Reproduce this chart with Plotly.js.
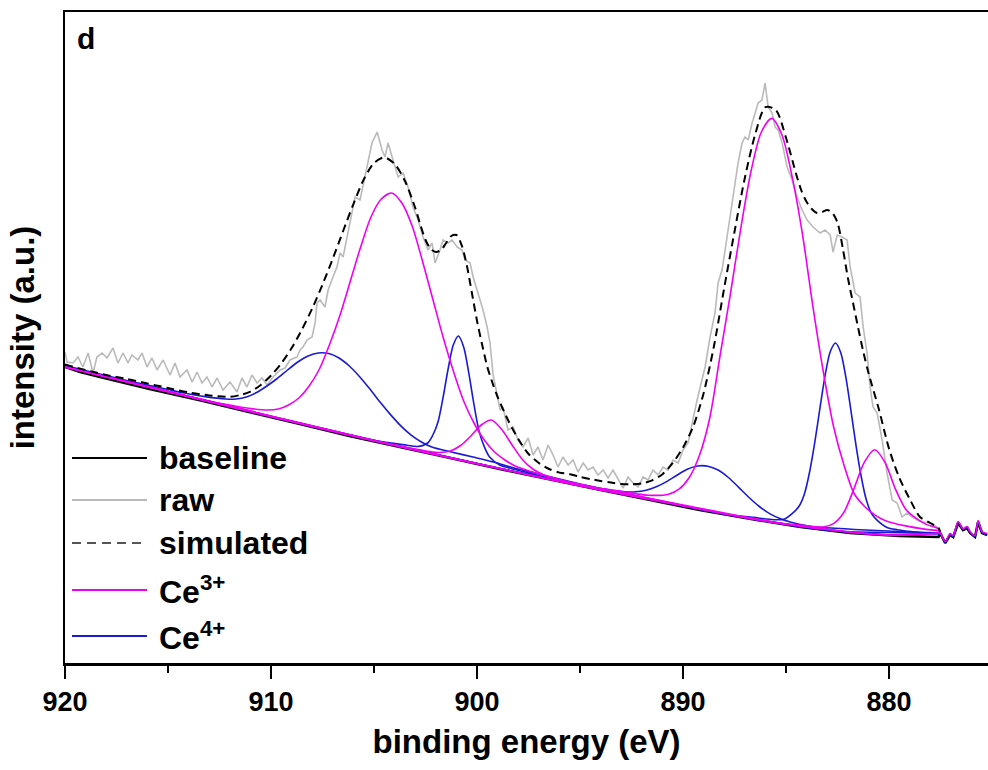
<!DOCTYPE html>
<html>
<head>
<meta charset="utf-8">
<script src="https://cdn.plot.ly/plotly-3.0.1.min.js"></script>
<style>html,body{margin:0;padding:0;background:#fff;}#chart{width:988px;height:770px;}</style>
</head>
<body>
<div id="chart"></div>
<script>
// ---- data (binding energy in eV, intensity in a.u.) ----
const tickVals = [920, 910, 900, 890, 880];
const tickText = ['920', '910', '900', '890', '880'];

const baselineX = [920, 919.27, 918.3, 915.9, 913.4, 911.0, 908.6, 906.2, 903.7, 901.3, 898.9, 896.5, 894.0, 891.6, 889.2, 886.7, 884.3, 881.9, 879.5, 877.6, 877.52, 877.28, 877.04, 876.89, 876.65, 876.41, 876.21, 876.07, 875.83, 875.68, 875.49, 875.24];
const baselineY = [296, 291, 286, 274, 262.5, 251, 239, 227, 216, 205, 194, 183.5, 173, 163, 153, 144, 136, 130, 127, 126, 130, 120, 128, 126, 140, 133, 135, 130, 126, 141, 130, 128];

const rawX = [920.00, 919.90, 919.61, 919.37, 919.13, 918.88, 918.64, 918.45, 918.20, 917.96,
  917.67, 917.43, 917.18, 916.94, 916.75, 916.46, 916.26, 916.02, 915.78, 915.53,
  915.24, 914.90, 914.66, 914.42, 914.08, 913.83, 913.59, 913.35, 913.11, 912.86,
  912.62, 912.33, 911.99, 911.65, 911.41, 911.17, 910.92, 910.68, 910.44, 910.19,
  909.90, 909.56, 909.32, 909.08, 908.74, 908.59, 908.45, 908.25, 908.01, 907.86,
  907.77, 907.62, 907.38, 907.23, 906.99, 906.80, 906.65, 906.50, 906.31, 906.07,
  905.92, 905.68, 905.44, 905.29, 905.10, 904.85, 904.61, 904.47, 904.32, 904.08,
  903.83, 903.59, 903.35, 903.11, 902.86, 902.62, 902.38, 902.18, 902.04, 901.80,
  901.65, 901.41, 901.21, 900.97, 900.73, 900.58, 900.34, 900.19, 899.95, 899.71,
  899.51, 899.37, 899.22, 899.03, 898.88, 898.74, 898.50, 898.25, 898.01, 897.77,
  897.52, 897.28, 897.04, 896.80, 896.55, 896.31, 896.07, 895.83, 895.58, 895.34,
  895.10, 894.85, 894.61, 894.37, 894.13, 893.88, 893.64, 893.40, 893.15, 892.91,
  892.67, 892.43, 892.18, 891.94, 891.70, 891.46, 891.21, 890.97, 890.73, 890.49,
  890.24, 890.00, 889.76, 889.51, 889.32, 889.17, 888.93, 888.69, 888.45, 888.30,
  888.11, 887.96, 887.82, 887.62, 887.48, 887.33, 887.14, 886.99, 886.84, 886.65,
  886.50, 886.36, 886.17, 886.02, 885.87, 885.68, 885.53, 885.39, 885.19, 884.95,
  884.71, 884.47, 884.22, 883.98, 883.69, 883.35, 883.11, 882.86, 882.72, 882.52,
  882.28, 882.04, 881.89, 881.65, 881.41, 881.26, 881.07, 880.92, 880.78, 880.58,
  880.34, 880.10, 879.85, 879.61, 879.37, 879.13, 878.88, 878.64, 878.35, 878.01,
  877.67, 877.52, 877.28, 877.04, 876.89, 876.65, 876.41, 876.21, 876.07, 875.83,
  875.68, 875.49, 875.24];
const rawY = [311, 301, 300, 306, 296, 310, 290, 306, 310, 305,
  315, 300, 310, 300, 308, 303, 310, 296, 305, 293,
  303, 288, 300, 286, 293, 281, 291, 280, 286, 276,
  285, 273, 281, 271, 285, 276, 288, 280, 285, 278,
  286, 293, 295, 303, 306, 313, 316, 323, 326, 340,
  360, 363, 356, 373, 386, 396, 410, 406, 426, 453,
  466, 463, 486, 503, 520, 531, 513, 506, 520, 503,
  486, 490, 476, 456, 443, 426, 413, 420, 400, 413,
  423, 420, 423, 416, 413, 403, 400, 386, 370, 353,
  336, 320, 288, 268, 253, 256, 233, 236, 223, 216,
  225, 208, 216, 203, 218, 208, 196, 206, 198, 203,
  191, 200, 193, 196, 188, 193, 185, 193, 183, 175,
  186, 180, 176, 186, 183, 193, 188, 196, 193, 203,
  200, 213, 220, 246, 263, 276, 296, 326, 350, 380,
  393, 413, 433, 460, 483, 500, 520, 526, 523, 540,
  550, 560, 563, 580, 556, 550, 536, 533, 520, 496,
  483, 466, 453, 443, 436, 430, 433, 428, 411, 428,
  426, 423, 396, 370, 366, 336, 310, 276, 256, 250,
  223, 190, 163, 160, 146, 150, 146, 143, 141, 140,
  136, 130, 120, 128, 126, 140, 133, 135, 130, 126,
  141, 130, 128];

const simX = [920, 919, 918, 917, 916, 915, 914, 913, 912, 911.5, 911, 910.5, 910, 909.5, 909, 908.5, 908, 907.5, 907, 906.5, 906, 905.5, 905, 904.5, 904, 903.5, 903, 902.75, 902.5, 902.25, 902, 901.75, 901.5, 901.25, 901, 900.75, 900.5, 900.25, 900, 899.75, 899.5, 899.25, 899, 898.5, 898, 897.5, 897, 896.5, 896, 895.5, 895, 894.5, 894, 893.5, 893, 892.5, 892, 891.5, 891, 890.5, 890, 889.5, 889, 888.5, 888, 887.5, 887, 886.5, 886, 885.5, 885, 884.5, 884.25, 884, 883.75, 883.5, 883.25, 883, 882.75, 882.5, 882.25, 882, 881.75, 881.5, 881.25, 881, 880.5, 880, 879.5, 879, 878.5, 878, 877.6, 877.52];
const simY = [298.5, 293, 288, 284, 279.5, 275, 270.6, 267.6, 266.2, 268, 271.4, 278, 287.5, 299.7, 315, 333.5, 354.5, 378.5, 404.5, 432, 459, 483.5, 500, 505.6, 499, 482, 455, 438, 423, 414, 411, 413, 420, 427, 428, 418, 398, 370, 342, 318, 296, 280, 266, 243, 224, 209, 200, 194, 190.4, 188.85, 186.2, 183.9, 182.1, 180.4, 178.9, 178.7, 179.6, 182.7, 188.8, 200.1, 215.6, 236.9, 270.1, 317, 375.5, 431.75, 485.3, 528.5, 555.9, 553, 525, 488, 472, 461, 454, 450, 451, 453, 450, 440, 415, 385, 360, 335, 311, 290, 254, 214, 185, 164, 146, 140, 135, 131];

// Ce3+ components
const ce3aX = [920, 916, 913, 911, 910.15, 909.65, 909.15, 908.65, 908.15, 907.65, 907.15, 906.65, 906.15, 905.65, 905.15, 904.65, 904.15, 903.65, 903.15, 902.65, 902.15, 901.65, 901.15, 900.65, 900.15, 899.65, 899.15, 898.65, 898.15, 897.15, 896, 894, 890, 885, 880, 877.52];
const ce3aY = [296, 276, 262, 254.5, 253, 254, 258, 265, 277, 294, 319, 348, 382, 416, 446, 464, 470, 460, 437, 402, 364, 326, 292, 262, 240, 223, 211, 203, 197, 190, 183.5, 174.5, 158, 139, 128, 130];
const ce3bX = [920, 905, 903, 902.3, 901.8, 901.3, 900.8, 900.3, 899.8, 899.3, 898.8, 898.3, 897.8, 897.3, 896.8, 896.3, 895.3, 893.3, 890, 885, 880, 877.52];
const ce3bY = [296, 222.5, 214, 211.4, 210.5, 212, 217.5, 227, 238, 243, 233.5, 218, 203.5, 194, 188.5, 184.8, 179.4, 170.7, 157.3, 138.7, 127.7, 130];
const ce3cX = [920, 905, 898, 895, 893.7, 891.7, 890.7, 890.2, 889.7, 889.2, 888.7, 888.2, 887.7, 887.2, 886.7, 886.2, 885.7, 885.2, 884.7, 884.2, 883.7, 883.2, 882.7, 882.2, 881.7, 881.2, 880.7, 880.2, 879.2, 878.2, 877.6, 877.52];
const ce3cY = [296, 222.5, 190.5, 177.5, 173.8, 167.8, 168.8, 173.8, 185.5, 208, 245.5, 308, 369.5, 434.7, 492, 531, 544.6, 528, 485.6, 428, 356.6, 292, 236.75, 198.5, 169.5, 156.8, 148.2, 142.6, 137.1, 133.6, 132.1, 130];
const ce3dX = [920, 905, 895, 890, 886, 884.2, 883.2, 882.7, 882.2, 881.7, 881.2, 880.7, 880.2, 879.7, 879.2, 878.7, 878.2, 877.6, 877.52, 877.28, 877.04, 876.89, 876.65, 876.41, 876.21, 876.07, 875.83, 875.68, 875.49, 875.24];
const ce3dY = [296, 222, 177, 157.2, 141.8, 137.6, 136, 139.3, 150.5, 174.5, 200.8, 213.2, 200.6, 174.35, 154.1, 144.85, 138.6, 134.1, 131, 121.5, 129.5, 127.5, 141.5, 134.5, 136.5, 131.5, 127.5, 142.5, 131.5, 129.5];

// Ce4+ components
const ce4aX = [920, 917, 915, 914.2, 913.2, 912.2, 911.7, 911.2, 910.7, 910.2, 909.7, 909.2, 908.7, 908.2, 907.7, 907.2, 906.7, 906.2, 905.7, 905.2, 904.7, 904.2, 903.7, 903.2, 902.7, 902.2, 901.2, 900.2, 899.2, 898.2, 897, 895, 892, 888, 883, 877.52];
const ce4aY = [297.5, 282.5, 273.5, 270, 266.4, 264, 264, 266, 270.5, 277, 284.5, 293, 301, 307, 310, 309.5, 305, 297, 286.3, 273.9, 260.65, 248.4, 237.15, 227.9, 221, 216, 210.8, 206, 201, 195, 189, 179, 166, 149, 132.8, 130];
const ce4bX = [920, 910, 905, 903.4, 902.9, 902.4, 902.15, 901.9, 901.65, 901.4, 901.15, 900.9, 900.65, 900.4, 900.15, 899.9, 899.65, 899.4, 898.9, 898.4, 897.4, 895.9, 892, 885, 877.52];
const ce4bY = [296.5, 246.5, 222.7, 217.8, 216.5, 220, 227.75, 240.7, 265.5, 294.5, 318.3, 327, 316, 289.9, 258.65, 231.65, 216.4, 206.3, 198, 194.8, 189.6, 182.1, 165.5, 138.7, 130];
const ce4cX = [920, 910, 900, 895, 893.8, 892.8, 892.3, 891.8, 891.3, 890.8, 890.3, 889.8, 889.3, 888.8, 888.3, 887.8, 887.3, 886.8, 886.3, 885.8, 885.3, 884.8, 883.8, 882, 880, 877.52];
const ce4cY = [296.5, 246.5, 199.5, 177.5, 173.7, 171.2, 171.2, 172.7, 176.2, 181.4, 187.8, 193.7, 197, 196.8, 193, 185.5, 175.6, 165.5, 156.5, 149.4, 144.4, 140.9, 136.4, 130.7, 128, 130];
const ce4dX = [920, 905, 895, 890, 888, 886.6, 885.6, 885.1, 884.6, 884.35, 884.1, 883.85, 883.6, 883.35, 883.1, 882.85, 882.6, 882.35, 882.1, 881.85, 881.6, 881.35, 881.1, 880.85, 880.6, 880.1, 879.6, 878.6, 877.6, 877.52, 877.28, 877.04, 876.89, 876.65, 876.41, 876.21, 876.07, 875.83, 875.68, 875.49, 875.24];
const ce4dY = [296.3, 222.3, 177.3, 157.3, 148.8, 145.6, 143.3, 143.8, 151.3, 157.5, 169.8, 192, 221.6, 255.85, 288.4, 311.7, 320, 310.5, 285.85, 252.1, 216.7, 186, 162.65, 149.35, 143.1, 135.55, 133.3, 130.8, 129.1, 130.5, 120.5, 128.5, 126.5, 140.5, 133.5, 135.5, 130.5, 126.5, 141.5, 130.5, 128.5];

const legendLabels = ['baseline', 'raw', 'simulated', 'Ce<sup>3+</sup>', 'Ce<sup>4+</sup>'];

// ---- styles ----
const FONT = 'Liberation Sans, Arial, Helvetica, sans-serif';
const C_RAW = '#bababa', C_BASE = '#000000', C_SIM = '#000000', C_CE3 = '#f000f0', C_CE4 = '#1a1ad6';

function comp(x, y, color, name) {
  return {x: x, y: y, type: 'scatter', mode: 'lines', name: name, showlegend: false,
          line: {color: color, width: 1.6, shape: 'spline', smoothing: 0.8}, hoverinfo: 'skip'};
}

const traces = [
  {x: rawX, y: rawY, type: 'scatter', mode: 'lines', name: 'raw', showlegend: false,
   line: {color: C_RAW, width: 1.6}},
  {x: baselineX, y: baselineY, type: 'scatter', mode: 'lines', name: 'baseline', showlegend: false,
   line: {color: C_BASE, width: 2.6}},
  comp(ce4aX, ce4aY, C_CE4, 'Ce4+'),
  comp(ce4bX, ce4bY, C_CE4, 'Ce4+'),
  comp(ce4cX, ce4cY, C_CE4, 'Ce4+'),
  comp(ce4dX, ce4dY, C_CE4, 'Ce4+'),
  comp(ce3aX, ce3aY, C_CE3, 'Ce3+'),
  comp(ce3bX, ce3bY, C_CE3, 'Ce3+'),
  comp(ce3cX, ce3cY, C_CE3, 'Ce3+'),
  comp(ce3dX, ce3dY, C_CE3, 'Ce3+'),
  {x: simX, y: simY, type: 'scatter', mode: 'lines', name: 'simulated', showlegend: false,
   line: {color: C_SIM, width: 2, dash: '8px,5px', shape: 'spline', smoothing: 0.8}}
];

// custom legend (long line samples like the original)
const legColors = [C_BASE, C_RAW, '#555555', C_CE3, C_CE4];
const legDash = ['solid', 'solid', '9px,6px', 'solid', 'solid'];
const legY = [0.3149, 0.2504, 0.1843, 0.1121, 0.0415];
const shapes = [], annotations = [];
for (let i = 0; i < legendLabels.length; i++) {
  shapes.push({type: 'line', xref: 'paper', yref: 'paper', x0: 0.0076, x1: 0.0888, y0: legY[i], y1: legY[i],
               line: {color: legColors[i], width: 2, dash: legDash[i]}});
  annotations.push({xref: 'paper', yref: 'paper', x: 0.0997, y: legY[i], xanchor: 'left', yanchor: 'middle',
                    showarrow: false, text: legendLabels[i], font: {family: FONT, size: 32, weight: 'bold', color: '#000'}});
}
annotations.push({xref: 'paper', yref: 'paper', x: 0.0108, y: 0.96, xanchor: 'left', yanchor: 'middle',
                  showarrow: false, text: 'd', font: {family: FONT, size: 30, weight: 'bold', color: '#000'}});

const layout = {
  width: 988, height: 770,
  margin: {l: 65, r: 0, t: 12, b: 107},
  paper_bgcolor: '#ffffff', plot_bgcolor: '#ffffff',
  showlegend: false,
  font: {family: FONT, color: '#000'},
  xaxis: {
    range: [920, 875.2], tickvals: tickVals, ticktext: tickText,
    ticks: 'outside', ticklen: 13, tickwidth: 2.5, tickcolor: '#000',
    showline: true, linewidth: 2.5, linecolor: '#000', mirror: true,
    showgrid: false, zeroline: false,
    tickfont: {family: FONT, size: 27, weight: 'bold', color: '#000'},
    minor: {dtick: 5, tick0: 875, ticks: 'outside', ticklen: 7, tickwidth: 2.5, tickcolor: '#000', showgrid: false},
    title: {text: 'binding energy (eV)', font: {family: FONT, size: 33, weight: 'bold', color: '#000'}, standoff: 14}
  },
  yaxis: {
    range: [0, 651], showticklabels: false, ticks: '',
    showline: true, linewidth: 2.5, linecolor: '#000',
    showgrid: false, zeroline: false,
    title: {text: 'intensity (a.u.)', font: {family: FONT, size: 33, weight: 'bold', color: '#000'}, standoff: 18}
  },
  shapes: shapes,
  annotations: annotations
};

Plotly.newPlot('chart', traces, layout, {staticPlot: true, displayModeBar: false});
</script>
</body>
</html>
